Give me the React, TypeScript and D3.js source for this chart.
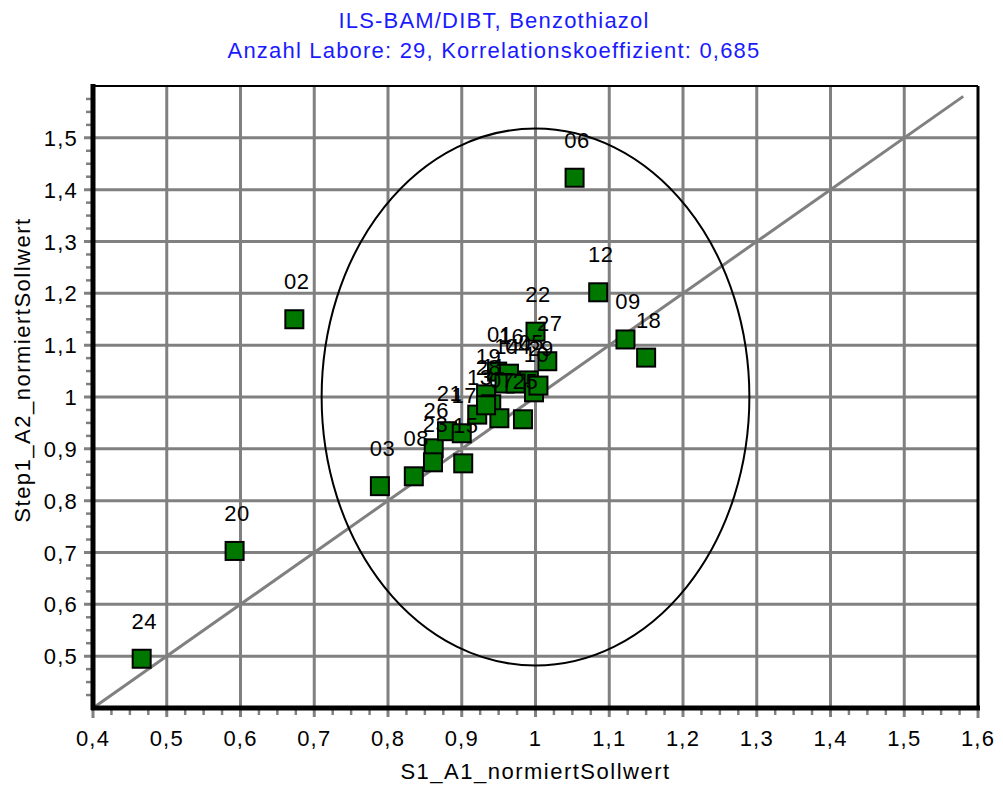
import React, { useEffect, useRef } from "react";
import * as d3 from "d3";

const W = 1003;
const H = 787;

const titleLines = [
  "ILS-BAM/DIBT, Benzothiazol",
  "Anzahl Labore: 29, Korrelationskoeffizient: 0,685",
];
const xLabel = "S1_A1_normiertSollwert";
const yLabel = "Step1_A2_normiertSollwert";

const labIds = [
  "24", "20", "02", "03", "08", "26", "23", "21", "17", "15",
  "13", "19", "11", "07", "25", "01", "16", "05", "10", "29",
  "27", "22", "06", "12", "09", "18", "14", "04", "28",
];
const xValues = [
  0.466, 0.592, 0.673, 0.789, 0.835, 0.862, 0.861, 0.880, 0.900, 0.902,
  0.921, 0.933, 0.940, 0.951, 0.983, 0.948, 0.964, 0.991, 0.998, 1.004,
  1.016, 1.000, 1.053, 1.085, 1.122, 1.150, 0.958, 0.973, 0.933,
];
const yValues = [
  0.495, 0.703, 1.150, 0.828, 0.847, 0.901, 0.874, 0.934, 0.930, 0.872,
  0.966, 1.005, 0.986, 0.959, 0.957, 1.049, 1.045, 1.032, 1.009, 1.022,
  1.069, 1.126, 1.423, 1.202, 1.111, 1.076, 1.026, 1.026, 0.984,
];
const majorTicks = [0.4, 0.5, 0.6, 0.7, 0.8, 0.9, 1.0, 1.1, 1.2, 1.3, 1.4, 1.5, 1.6];
const yTicks = [0.5, 0.6, 0.7, 0.8, 0.9, 1.0, 1.1, 1.2, 1.3, 1.4, 1.5];
const ellipseCenter = [1.0, 1.0];
const ellipseRadii = [0.29, 0.518];
const diagonal = [0.4, 1.58];

const fmt = (v: number) => String(+v.toFixed(2)).replace(".", ",");

export default function App() {
  const ref = useRef<SVGSVGElement>(null);

  useEffect(() => {
    const svg = d3.select(ref.current);
    svg.selectAll("*").remove();
    const left = 93, right = 978, top = 86, bottom = 708;
    const x = d3.scaleLinear().domain([0.4, 1.6]).range([left, right]);
    const y = d3.scaleLinear().domain([0.4, 1.6]).range([bottom, top]);
    const font = "'Liberation Sans', Arial, sans-serif";
    const gray = "#808080";
    const ls = "1.2px";

    svg.append("rect").attr("width", W).attr("height", H).attr("fill", "#fff");

    const g = svg.append("g");
    majorTicks.filter((t) => t > 0.45 && t < 1.55).forEach((t) => {
      g.append("line").attr("x1", x(t)).attr("x2", x(t)).attr("y1", top).attr("y2", bottom + 9)
        .attr("stroke", gray).attr("stroke-width", 3);
    });
    yTicks.forEach((t) => {
      g.append("line").attr("x1", left - 9).attr("x2", right).attr("y1", y(t)).attr("y2", y(t))
        .attr("stroke", gray).attr("stroke-width", 3);
    });

    const minor = d3.range(0, 49).map((i) => 0.4 + i * 0.025);
    minor.forEach((t) => {
      const isMajor = Math.abs(t * 10 - Math.round(t * 10)) < 1e-6;
      if (!isMajor) {
        g.append("line").attr("x1", x(t)).attr("x2", x(t)).attr("y1", bottom).attr("y2", bottom + 7)
          .attr("stroke", gray).attr("stroke-width", 2.5);
        g.append("line").attr("x1", left - 7).attr("x2", left).attr("y1", y(t)).attr("y2", y(t))
          .attr("stroke", gray).attr("stroke-width", 2.5);
      }
    });
    [0.4, 1.6].forEach((t) => {
      g.append("line").attr("x1", x(t)).attr("x2", x(t)).attr("y1", bottom).attr("y2", bottom + 10)
        .attr("stroke", gray).attr("stroke-width", 3);
    });

    svg.append("line")
      .attr("x1", x(diagonal[0])).attr("y1", y(diagonal[0]))
      .attr("x2", x(diagonal[1])).attr("y2", y(diagonal[1]))
      .attr("stroke", gray).attr("stroke-width", 3);

    svg.append("ellipse")
      .attr("cx", x(ellipseCenter[0])).attr("cy", y(ellipseCenter[1]))
      .attr("rx", x(ellipseCenter[0] + ellipseRadii[0]) - x(ellipseCenter[0]))
      .attr("ry", y(ellipseCenter[1]) - y(ellipseCenter[1] + ellipseRadii[1]))
      .attr("fill", "none").attr("stroke", "#000").attr("stroke-width", 2);

    svg.append("line").attr("x1", left).attr("x2", right).attr("y1", top).attr("y2", top)
      .attr("stroke", "#000").attr("stroke-width", 2);
    svg.append("line").attr("x1", right).attr("x2", right).attr("y1", top).attr("y2", bottom)
      .attr("stroke", "#000").attr("stroke-width", 3);
    svg.append("line").attr("x1", left).attr("x2", left).attr("y1", top - 2).attr("y2", bottom + 2)
      .attr("stroke", "#000").attr("stroke-width", 5);
    svg.append("line").attr("x1", left - 2).attr("x2", right + 2).attr("y1", bottom).attr("y2", bottom)
      .attr("stroke", "#000").attr("stroke-width", 5);

    const pts = labIds.map((id, i) => ({ id, vx: xValues[i], vy: yValues[i] }));
    const s = 18;
    svg.append("g").selectAll("rect").data(pts).join("rect")
      .attr("x", (d) => x(d.vx) - s / 2).attr("y", (d) => y(d.vy) - s / 2)
      .attr("width", s).attr("height", s)
      .attr("fill", "#007800").attr("stroke", "#000").attr("stroke-width", 2);
    svg.append("g").selectAll("text").data(pts).join("text")
      .attr("x", (d) => x(d.vx) + 2.5).attr("y", (d) => y(d.vy) - 30)
      .attr("text-anchor", "middle").attr("font-family", font).attr("font-size", 22)
      .attr("letter-spacing", "0.5px")
      .attr("fill", "#000").text((d) => d.id);

    svg.append("g").selectAll("text").data(majorTicks).join("text")
      .attr("x", (d) => x(d)).attr("y", 746).attr("text-anchor", "middle")
      .attr("font-family", font).attr("font-size", 22).attr("letter-spacing", ls).attr("fill", "#000")
      .text((d) => fmt(d));
    svg.append("g").selectAll("text").data(yTicks).join("text")
      .attr("x", left - 15).attr("y", (d) => y(d) + 8).attr("text-anchor", "end")
      .attr("font-family", font).attr("font-size", 22).attr("letter-spacing", ls).attr("fill", "#000")
      .text((d) => fmt(d));

    svg.append("text").attr("x", (left + right) / 2).attr("y", 779).attr("text-anchor", "middle")
      .attr("font-family", font).attr("font-size", 22).attr("letter-spacing", "1.5px").attr("fill", "#000").text(xLabel);
    svg.append("text").attr("transform", `translate(30, 370) rotate(-90)`)
      .attr("text-anchor", "middle").attr("letter-spacing", "1.5px")
      .attr("font-family", font).attr("font-size", 22).attr("fill", "#000").text(yLabel);

    titleLines.forEach((t, i) => {
      svg.append("text").attr("x", 494).attr("y", 28 + i * 30).attr("text-anchor", "middle")
        .attr("font-family", font).attr("font-size", 22).attr("letter-spacing", ls)
        .attr("fill", "#1a1aff").text(t);
    });
  }, []);

  return (
    <svg ref={ref} width={W} height={H}
      style={{ position: "absolute", left: 0, top: 0, display: "block" }} />
  );
}
